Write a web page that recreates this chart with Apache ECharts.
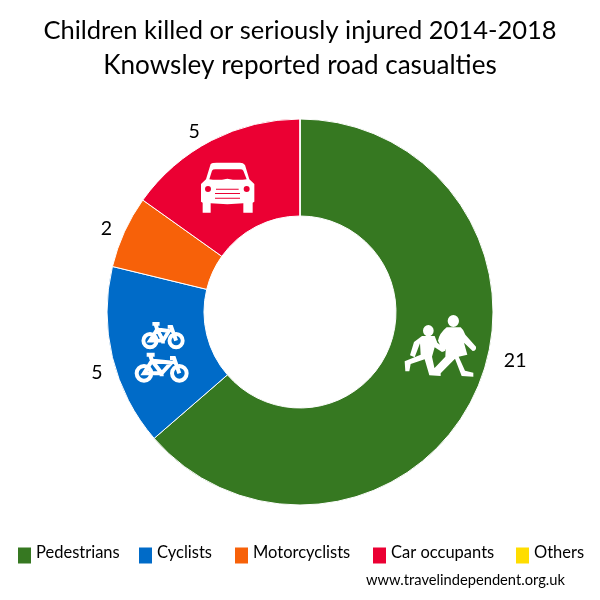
<!DOCTYPE html>
<html><head><meta charset="utf-8">
<style>html,body{margin:0;padding:0;background:#fff}#c{width:600px;height:600px}</style>
<script src="https://cdn.jsdelivr.net/npm/echarts@6/dist/echarts.min.js"></script>
</head><body><div id="c"></div>
<script>
const categories = ['Pedestrians','Cyclists','Motorcyclists','Car occupants','Others'];
const values = [21,5,2,5,0];
const colors = ['#367821','#006BC8','#F76109','#EB0033','#FFDD00'];
const legendLeft = [18,139,235,373,516];
const labelShift = [[12,-35],[7,13],[4,0],[1,-2],[0,0]];
const FONT = 'Lato, "Open Sans", sans-serif';

const car = 'M62 42 Q66 38 80 38 L150 38 Q160 38 165 45 L178 88 L193 102 L193 155 L188 158 L188 188 L160 188 L160 160 L112 163 L62 160 L62 188 L38 188 L38 158 L33 155 L33 102 L48 88 Z';
const carHoles = 'M58 88 L66 62 Q68 58 76 58 L150 58 Q158 58 160 62 L170 88 Q140 92 112 86 Q85 92 58 88 Z'
 + ' M45 117 A9 9 0 1 0 63 117 A9 9 0 1 0 45 117 Z M161 117 A9 9 0 1 0 179 117 A9 9 0 1 0 161 117 Z'
 + ' M78 116 L146 116 L146 119 L78 119 Z M75 129 L150 129 L150 132 L75 132 Z M75 143 L150 143 L150 146 L75 146 Z';
const people =
 'M173 63 A17 18 0 1 1 207 63 A17 18 0 1 1 173 63 Z'
 +' M170 82 L212 82 Q220 88 226 104 L258 140 Q260 152 248 153 L222 128 L232 164 L206 170 L225 212 L250 218 L250 230 L215 228 L195 176 L152 220 L152 228 L118 226 L115 208 L128 210 L166 170 L167 148 L160 155 L144 122 Q148 100 170 82 Z'
 +' M99 92 A16 17 0 1 1 131 92 A16 17 0 1 1 99 92 Z'
 +' M96 108 L134 108 L142 128 L162 143 L166 152 L156 156 L134 142 L126 170 L138 226 L118 226 L104 178 L62 192 L58 214 L46 214 L44 184 L92 164 L90 130 L74 172 L60 166 L72 126 Z';
function bike(d){
  const f=d-24, h=d-16;
  return 'M-22 0 A22 22 0 1 0 22 0 A22 22 0 1 0 -22 0 Z M'+(d-22)+' 0 A22 22 0 1 0 '+(d+22)+' 0 A22 22 0 1 0 '+(d-22)+' 0 Z'
   + ' M0 0 L24 -38 L'+f+' -32 L'+(d*0.5)+' 0 Z M24 -38 L18 -56 M8 -56 L32 -56 M'+(d*0.5)+' 0 L24 -38 M'+d+' 0 L'+h+' -46 L'+(h-12)+' -46 M'+(d*0.5-6)+' 3 L'+(d*0.5+6)+' 3';
}
function legends(){
  return categories.map((n,i)=>({
    show:true, data:[n], left:legendLeft[i], top:544, orient:'horizontal', padding:0,
    itemWidth:13, itemHeight:16, itemGap:0, icon:'rect', symbolKeepAspect:false, selectedMode:false,
    itemStyle:{borderWidth:0},
    formatter:'{a|{name}}',
    textStyle:{fontFamily:FONT,fontSize:16.5,color:'#000',
      rich:{a:{fontFamily:FONT,fontSize:16.5,color:'#000',padding:[0,0,6,0]}}}
  }));
}
function iconLayer(){
  const t=1/3;
  return {type:'group',children:[
    {type:'path',x:190,y:150,scaleX:t,scaleY:t,shape:{pathData:car},style:{fill:'#fff'}},
    {type:'path',x:190,y:150,scaleX:t,scaleY:t,shape:{pathData:carHoles},style:{fill:'#EB0033'}},
    {type:'path',x:390,y:300,scaleX:t,scaleY:t,shape:{pathData:people},style:{fill:'#fff'}},
    {type:'path',x:120+72/3,y:310+190/3,scaleX:t,scaleY:t,shape:{pathData:bike(106)},style:{fill:null,stroke:'#fff',lineWidth:12}},
    {type:'path',x:120+90/3,y:310+92/3,scaleX:.9*t,scaleY:.9*t,shape:{pathData:bike(87)},style:{fill:null,stroke:'#fff',lineWidth:13}}
  ]};
}
const chart = echarts.init(document.getElementById('c'),null,{renderer:'canvas'});
chart.setOption({
  animation:false, backgroundColor:'#fff', color:colors,
  title:[
    {text:'Children killed or seriously injured 2014-2018',
     left:300, top:14, textAlign:'center', padding:0,
     textStyle:{fontFamily:FONT,fontSize:25.5,fontWeight:'normal',color:'#000',lineHeight:34}},
    {text:'Knowsley reported road casualties',
     left:300, top:49, textAlign:'center', padding:0,
     textStyle:{fontFamily:FONT,fontSize:26.1,fontWeight:'normal',color:'#000',lineHeight:34}},
    {text:'www.travelindependent.org.uk', left:366, top:573, padding:0,
     textStyle:{fontFamily:FONT,fontSize:14.7,fontWeight:'normal',color:'#000'}}
  ],
  legend:legends(),
  series:[{
    type:'pie', center:[300,312], radius:[96,193], startAngle:90, clockwise:true,
    minAngle:0, avoidLabelOverlap:false, silent:true,
    itemStyle:{borderColor:'#fff',borderWidth:1},
    label:{show:true,position:'outside',formatter:p=>p.value?String(p.value):'',
      fontFamily:FONT,fontSize:19.5,color:'#000'},
    labelLine:{show:false,length:8,length2:4},
    labelLayout:p=>{const s=labelShift[p.dataIndex];return {dx:s[0],dy:s[1]};},
    data:categories.map((n,i)=>({name:n,value:values[i]}))
  },{
    type:'custom', coordinateSystem:'none', silent:true, z:10, data:[0],
    renderItem:iconLayer
  }]
});
</script></body></html>
